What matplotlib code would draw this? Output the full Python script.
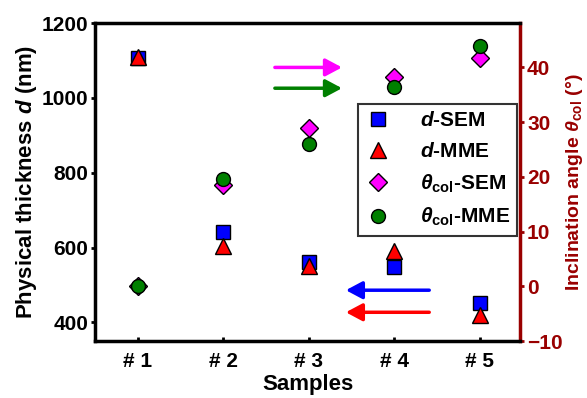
import numpy as np
import matplotlib
matplotlib.use('Agg')
import matplotlib.pyplot as plt

plt.rcParams['font.family'] = ['Liberation Sans', 'DejaVu Sans']
plt.rcParams['font.weight'] = 'bold'
plt.rcParams['mathtext.fontset'] = 'custom'
plt.rcParams['mathtext.rm'] = 'Liberation Sans:bold'
plt.rcParams['mathtext.it'] = 'Liberation Sans:italic:bold'
plt.rcParams['mathtext.bf'] = 'Liberation Sans:bold'

# samples
samples = ['# 1', '# 2', '# 3', '# 4', '# 5']
x = np.arange(1, 6)

# physical thickness (nm)
d_sem = [1106, 641, 561, 548, 452]
d_mme = [1110, 604, 550, 590, 419]

# inclination angle (deg)
theta_sem = [0.0, 18.6, 28.9, 38.2, 41.7]
theta_mme = [0.0, 19.7, 26.0, 36.4, 43.9]

dark_red = '#990000'

fig = plt.figure(figsize=(5.87, 3.98), dpi=100)
ax = fig.add_axes([0.162, 0.143, 0.724, 0.799])
ax2 = ax.twinx()

h1, = ax.plot(x, d_sem, 's', color='blue', mec='black', mew=1, ms=9.5, label='$d$-SEM', zorder=3)
h2, = ax.plot(x, d_mme, '^', color='red', mec='black', mew=1, ms=11, label='$d$-MME', zorder=4)
h3, = ax2.plot(x, theta_sem, 'D', color='magenta', mec='black', mew=1, ms=9, label=r'$\theta_{\mathrm{col}}$-SEM', zorder=3)
h4, = ax2.plot(x, theta_mme, 'o', color='green', mec='black', mew=1, ms=10, label=r'$\theta_{\mathrm{col}}$-MME', zorder=4)

ax.set_xlim(0.5, 5.47)
ax.set_ylim(350, 1200)
ax2.set_ylim(-10, 48.1)
ax.set_xticks(x)
ax.set_xticklabels(samples)
ax.set_yticks([400, 600, 800, 1000, 1200])
ax2.set_yticks([-10, 0, 10, 20, 30, 40])

for side in ['left', 'bottom', 'top']:
    ax2.spines[side].set_linewidth(2.5)
    ax2.spines[side].set_color('black')
ax2.spines['right'].set_linewidth(2.5)
ax2.spines['right'].set_color(dark_red)

ax.tick_params(axis='y', direction='out', length=3, width=2, labelsize=15, pad=2)
ax.tick_params(axis='x', direction='in', length=3, width=2, labelsize=15, pad=8)
ax2.tick_params(axis='y', direction='out', length=3, width=2, labelsize=15,
                colors=dark_red, pad=2)

ax.set_xlabel('Samples', fontsize=16, fontweight='bold', labelpad=2)
ax.set_ylabel('Physical thickness $d$ (nm)', fontsize=16, fontweight='bold', labelpad=2)
ax2.set_ylabel(r'Inclination angle $\theta_{\mathrm{col}}$ (°)', fontsize=14,
               fontweight='bold', color=dark_red, labelpad=1)

# arrows pointing to the axis each series belongs to
arrow_kw = dict(arrowstyle='-|>,head_width=0.24,head_length=0.45', lw=2.5, mutation_scale=22)
ax2.annotate('', xy=(3.42, 40), xytext=(2.57, 40),
             arrowprops=dict(color='magenta', **arrow_kw))
ax2.annotate('', xy=(3.42, 36.2), xytext=(2.57, 36.2),
             arrowprops=dict(color='green', **arrow_kw))
ax.annotate('', xy=(3.40, 486), xytext=(4.44, 486),
            arrowprops=dict(color='blue', **arrow_kw))
ax.annotate('', xy=(3.40, 427), xytext=(4.44, 427),
            arrowprops=dict(color='red', **arrow_kw))

leg = ax2.legend(handles=[h1, h2, h3, h4], loc='upper left',
                 bbox_to_anchor=(0.619, 0.745), fontsize=15, frameon=True,
                 fancybox=False, edgecolor='black', handletextpad=1.4,
                 labelspacing=0.55, borderpad=0.35, handlelength=1.2,
                 borderaxespad=0)
leg.get_frame().set_linewidth(1.5)
leg.set_zorder(10)

fig.savefig('out.png', dpi=100)
